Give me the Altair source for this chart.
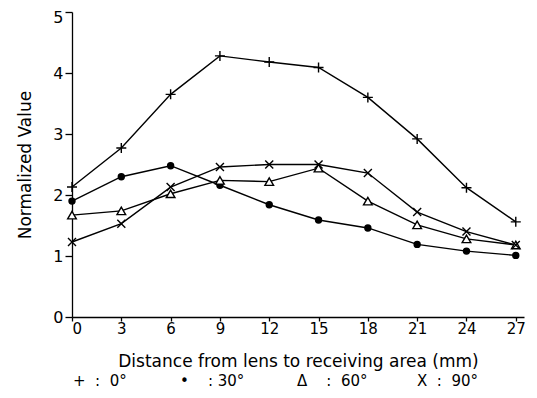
import altair as alt
import pandas as pd

distance = [0, 3, 6, 9, 12, 15, 18, 21, 24, 27]
series_names = ["0°", "30°", "60°", "90°"]
v_0 = [2.13, 2.77, 3.65, 4.28, 4.18, 4.09, 3.60, 2.92, 2.12, 1.56]
v_30 = [1.90, 2.30, 2.48, 2.16, 1.84, 1.59, 1.46, 1.19, 1.08, 1.01]
v_60 = [1.67, 1.74, 2.02, 2.24, 2.22, 2.44, 1.90, 1.51, 1.28, 1.18]
v_90 = [1.23, 1.53, 2.13, 2.46, 2.50, 2.50, 2.36, 1.72, 1.40, 1.18]
NB = "\u00a0"
legend_labels = ["+" + NB * 2 + ":" + NB * 2 + "0°",
                 "•" + NB * 4 + ":" + NB + "30°",
                 "Δ" + NB * 4 + ":" + NB * 2 + "60°",
                 "X" + NB * 2 + ":" + NB * 2 + "90°"]

rows = []
for name, vals in zip(series_names, [v_0, v_30, v_60, v_90]):
    for d, v in zip(distance, vals):
        rows.append({"distance": d, "value": v, "series": name})
df = pd.DataFrame(rows)

FONT = "DejaVu Sans"
plus_path = "M-1,0H1M0,-1V1"
x_path = "M-1,-1L1,1M-1,1L1,-1"
marker_shapes = [plus_path, "circle", "triangle-up", x_path]
marker_fills = ["black", "black", "white", "black"]
marker_sizes = [100, 36, 75, 64]

x_enc = alt.X("distance:Q",
              scale=alt.Scale(domain=[0, 27.5], nice=False, zero=False),
              axis=alt.Axis(values=distance, format="d",
                            title="Distance from lens to receiving area (mm)",
                            titleFontSize=17, labelFontSize=15, tickSize=4,
                            labelPadding=0, titlePadding=17))
y_enc = alt.Y("value:Q",
              scale=alt.Scale(domain=[0, 5], nice=False),
              axis=alt.Axis(values=[0, 1, 2, 3, 4, 5], format="d",
                            title="Normalized Value", titleFontSize=17,
                            labelFontSize=16, tickSize=7, labelPadding=2,
                            titlePadding=18,
                            labelOffset={"condition": {"test": "datum.value === 5", "value": 5},
                                         "value": 0}))

base = alt.Chart(df)
lines = base.mark_line(color="black", strokeWidth=1.4).encode(
    x=x_enc, y=y_enc, detail="series:N")

point_layers = []
for name, shp, fl, sz in zip(series_names, marker_shapes, marker_fills, marker_sizes):
    point_layers.append(
        base.transform_filter(alt.datum.series == name).mark_point(
            shape=shp, size=sz, filled=True, fill=fl, stroke="black",
            strokeWidth=1.4, opacity=1
        ).encode(x="distance:Q", y="value:Q")
    )

legend_x = [1, 108, 225, 345]
legend_layers = []
for lab, px in zip(legend_labels, legend_x):
    legend_layers.append(
        alt.Chart(pd.DataFrame({"t": [lab]})).mark_text(
            align="left", baseline="middle", fontSize=15, font=FONT, color="black"
        ).encode(text="t:N", x=alt.value(px), y=alt.value(369))
    )

chart = alt.layer(lines, *point_layers, *legend_layers).properties(
    width=452, height=305,
    autosize=alt.AutoSizeParams(type="none"),
    padding={"left": 64, "top": 4, "right": 5, "bottom": 73},
).configure_view(stroke=None).configure_axis(
    grid=False, domainColor="black", domainWidth=1.3, tickColor="black",
    tickWidth=1.3, labelColor="black", titleColor="black",
    labelFont=FONT, titleFont=FONT, titleFontWeight="normal",
)

chart.save("out.html", embed_options={"renderer": "svg", "actions": False})
